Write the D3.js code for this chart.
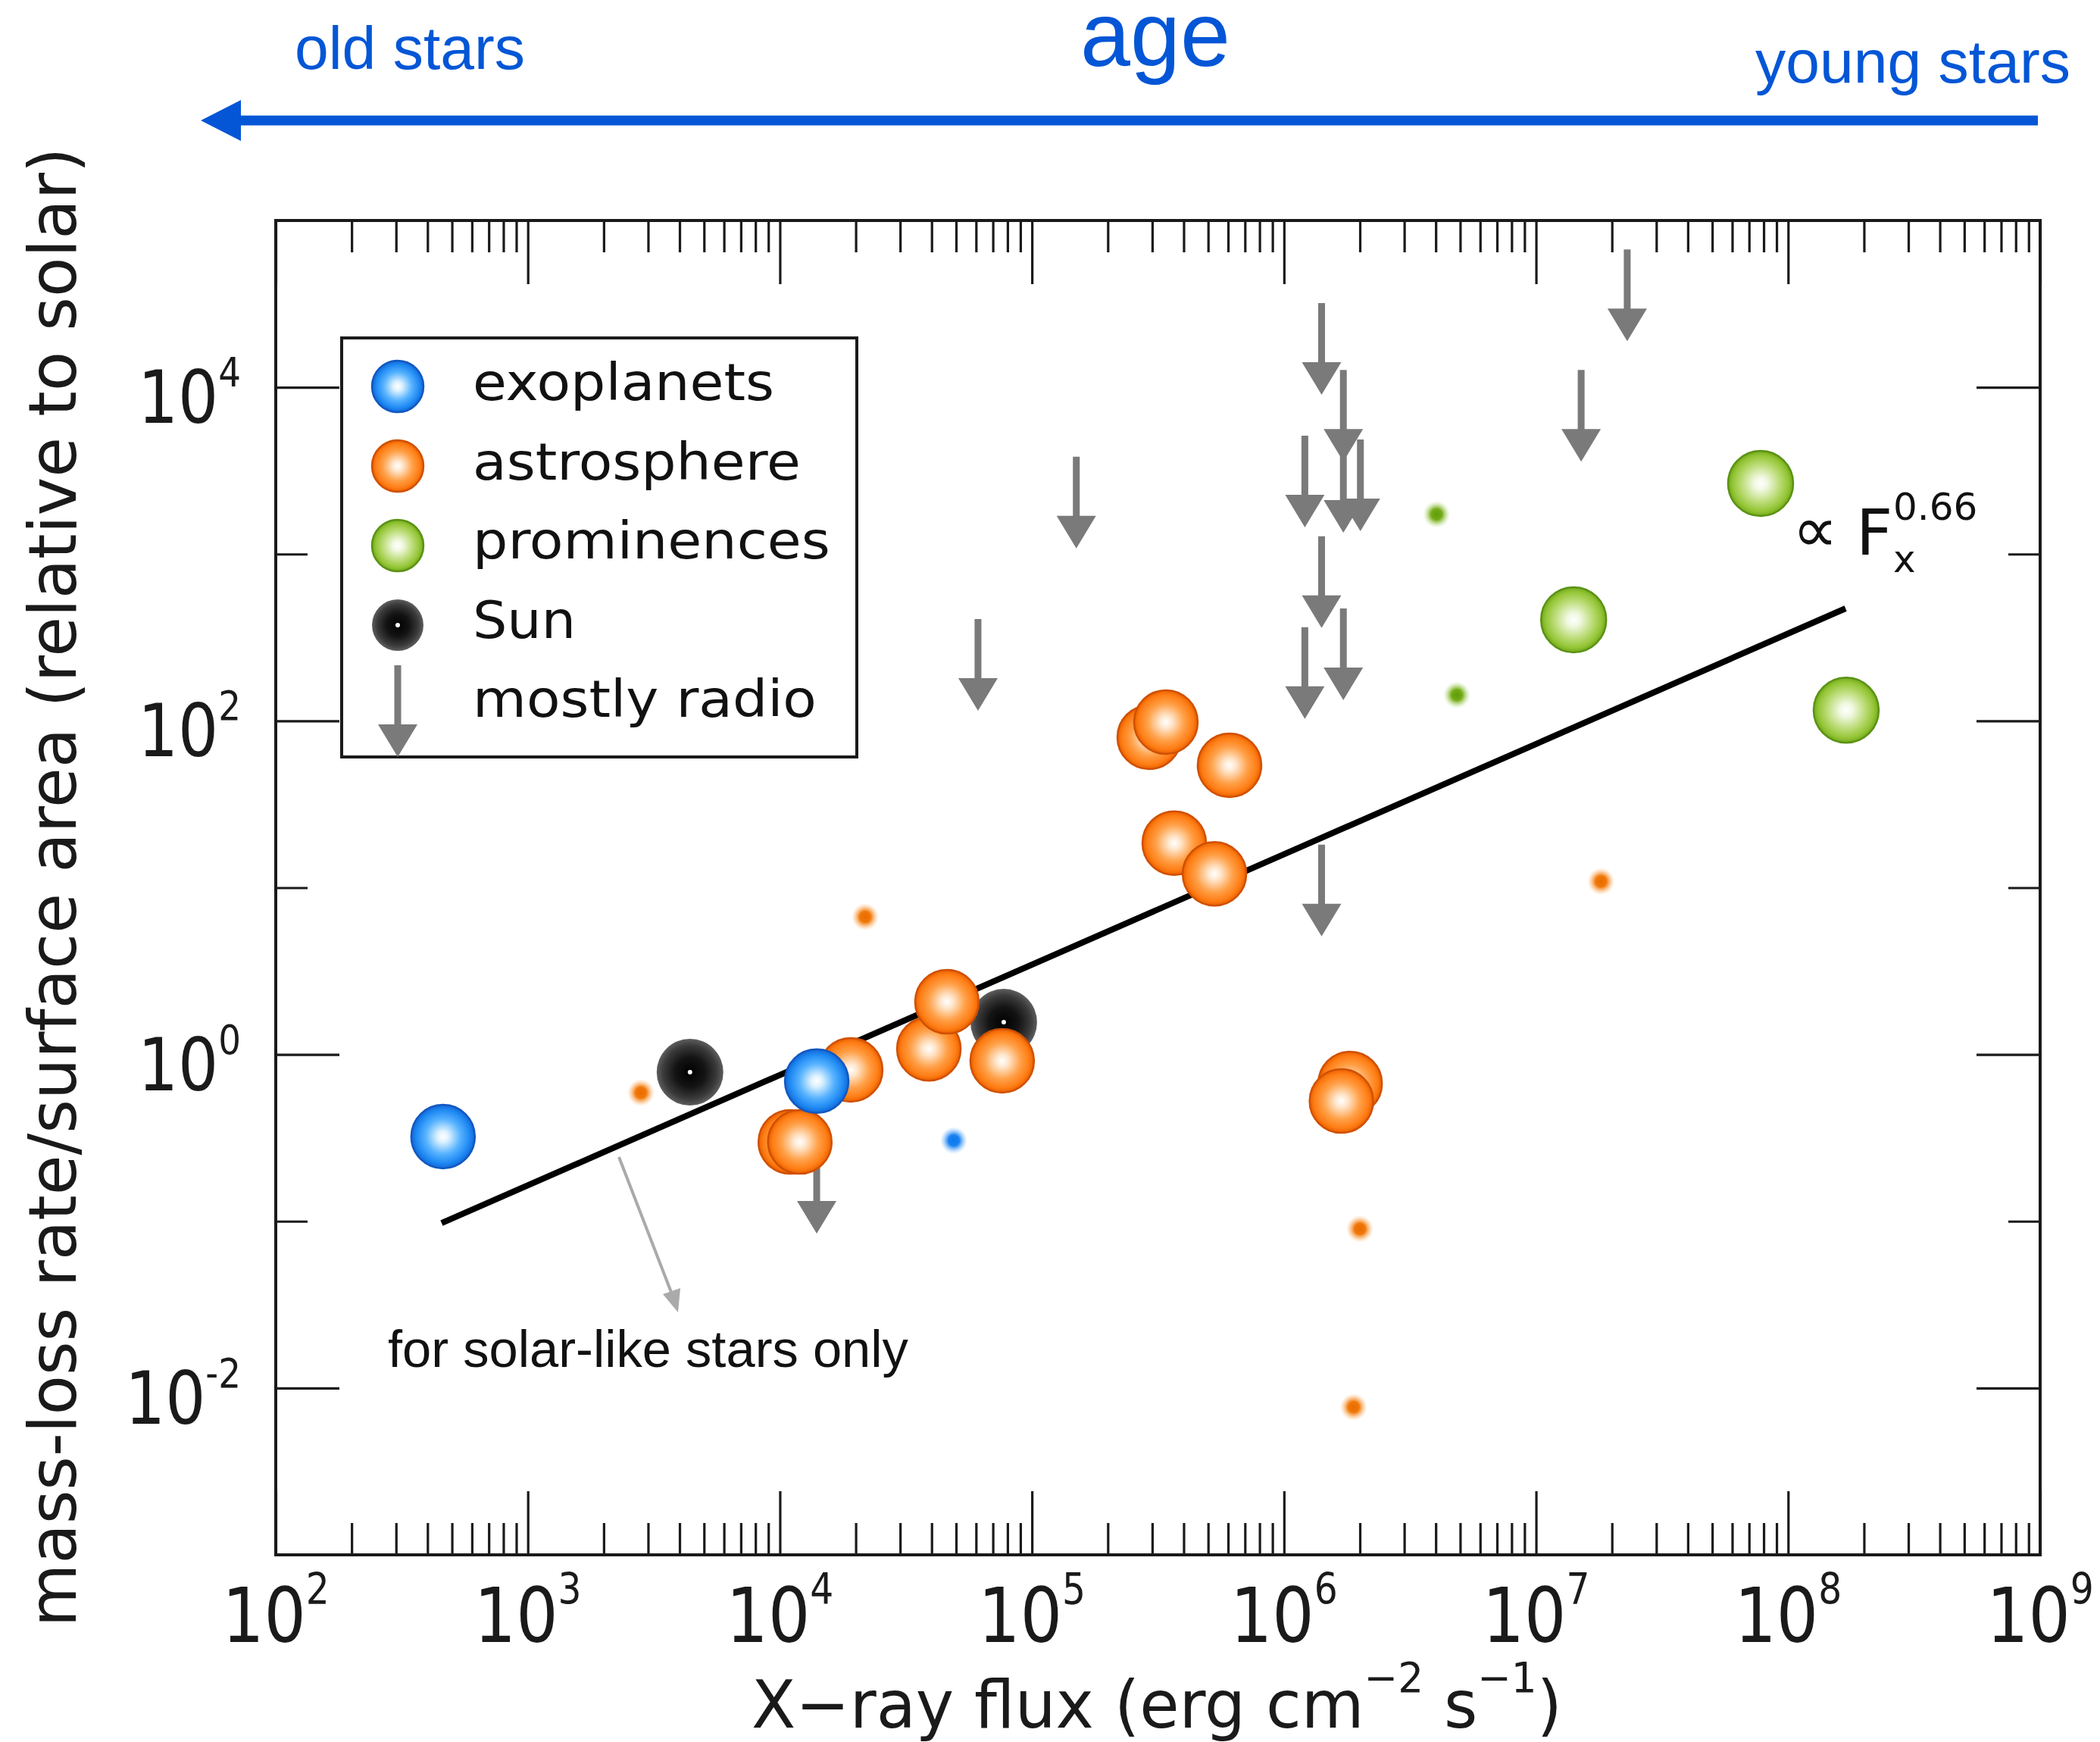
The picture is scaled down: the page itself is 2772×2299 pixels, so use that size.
<!DOCTYPE html>
<html>
<head>
<meta charset="utf-8">
<script src="https://cdn.jsdelivr.net/npm/d3@7"></script>
<style>
  html, body { margin: 0; padding: 0; background: #fff; }
  svg { display: block; }
</style>
</head>
<body>
<div id="chart"></div>
<script>
// mass-loss rate per surface area vs X-ray flux
const exoplanets = [[461, 0.322], [14000, 0.692]];
const exoplanetsSmall = [[49000, 0.305]];
const sun = [[4400, 0.783], [77300, 1.56]];
const astrosphere = [
  [11000, 0.299], [12000, 0.299], [19100, 0.809], [39000, 1.08], [46000, 2.07],
  [76200, 0.916], [292000, 79.8], [340000, 98.4], [608000, 54.2], [367000, 18.5],
  [530000, 12.1], [1.83e6, 0.670], [1.69e6, 0.526]
];
const astrosphereSmall = [[2810, 0.590], [21800, 6.68], [1.81e7, 10.9], [2.0e6, 0.0900], [1.89e6, 0.00769]];
const prominences = [[7.78e7, 2650], [1.41e7, 404], [1.70e8, 116]];
const prominencesSmall = [[4.03e6, 1730], [4.85e6, 143]];
// upper limits, value = top of the arrow
const radioLimits = [
  [1.41e6, 32000], [1.72e6, 12700], [1.21e6, 5130], [1.72e6, 4760], [2.01e6, 4860],
  [1.41e6, 1280], [1.21e6, 364], [1.72e6, 472], [1.51e7, 12700], [2.30e7, 67100],
  [1.41e6, 18.1], [14000, 0.299], [61100, 408], [150000, 3830]
];
const fitLine = [[455, 0.0975], [1.69e8, 472]];
const xTickExps = [2, 3, 4, 5, 6, 7, 8, 9];
const yTickExps = [-2, 0, 2, 4];
const legendLabels = ["exoplanets", "astrosphere", "prominences", "Sun", "mostly radio"];

const width = 2772, height = 2299;
const frame = { left: 364, right: 2693, top: 291, bottom: 2052 };
const blue = "#0456d6";
const ink = "#1a1a1a";
const dejavu = "'DejaVu Sans', Verdana, sans-serif";
const helv = "'Liberation Sans', Arial, Helvetica, sans-serif";

const svg = d3.select("#chart").append("svg")
  .attr("width", width)
  .attr("height", height)
  .attr("viewBox", `0 0 ${width} ${height}`);
svg.append("rect").attr("width", width).attr("height", height).attr("fill", "#fff");
const defs = svg.append("defs");

function radial(id, stops) {
  const g = defs.append("radialGradient").attr("id", id)
    .attr("cx", "50%").attr("cy", "50%").attr("r", "50%");
  stops.forEach(s => g.append("stop")
    .attr("offset", s[0]).attr("stop-color", s[1])
    .attr("stop-opacity", s[2] == null ? 1 : s[2]));
}
radial("g-exo", [[0, "#ffffff"], [0.18, "#dcf1ff"], [0.55, "#56b2ff"], [0.85, "#1d88f2"], [1, "#1466d6"]]);
radial("g-astro", [[0, "#ffffff"], [0.2, "#ffe6cc"], [0.58, "#ffa048"], [0.86, "#ff7d14"], [1, "#e86000"]]);
radial("g-prom", [[0, "#ffffff"], [0.2, "#f1f8e2"], [0.58, "#bcdc78"], [0.86, "#93c535"], [1, "#74a81c"]]);
radial("g-sun", [[0, "#000000"], [0.45, "#141414"], [0.8, "#3a3a3a"], [1, "#5e5e5e"]]);
radial("g-exo-s", [[0, "#0a78ee"], [0.4, "#1a82f0"], [1, "#8cc6ff", 0]]);
radial("g-astro-s", [[0, "#ea6a00"], [0.4, "#f07808"], [1, "#ffc080", 0]]);
radial("g-prom-s", [[0, "#5e9a08"], [0.4, "#74ac18"], [1, "#c8e49a", 0]]);

const x = d3.scaleLog().domain([1e2, 1e9]).range([frame.left, frame.right]);
const y = d3.scaleLog().domain([1e-3, 1e5]).range([frame.bottom, frame.top]);

// squeeze a text horizontally so it covers w pixels
function fitWidth(text, w) {
  const bw = text.node().getBBox().width;
  text.attr("transform", `scale(${w / bw},1)`);
}

// ---- age arrow on top
const ageG = svg.append("g");
ageG.append("path")
  .attr("d", "M265,159 L318,132 L318,152.5 L2690,152.5 L2690,165.5 L318,165.5 L318,186 Z")
  .attr("fill", blue);
[
  { t: "old stars", x: 389, y: 91, size: 80, w: 304, anchor: "start" },
  { t: "age", x: 1525, y: 87, size: 120, w: 198, anchor: "middle" },
  { t: "young stars", x: 2317, y: 109, size: 80, w: 416, anchor: "start" }
].forEach(d => {
  const t = ageG.append("g").attr("transform", `translate(${d.x},${d.y})`)
    .append("text").attr("text-anchor", d.anchor)
    .attr("font-family", helv).attr("font-size", d.size).attr("fill", blue)
    .text(d.t);
  fitWidth(t, d.w);
});

// ---- axes (ticks inward on all four sides)
const plot = svg.append("g");
const xAll = x.ticks();
const xMajor = xAll.filter(v => Math.abs(Math.log10(v) - Math.round(Math.log10(v))) < 1e-9);
const xMinor = xAll.filter(v => !xMajor.includes(v));
const yAll = d3.range(-3, 6).map(e => Math.pow(10, e));
const yLong = yAll.filter(v => Math.round(Math.log10(v)) % 2 === 0);
const yShort = yAll.filter(v => Math.round(Math.log10(v)) % 2 !== 0);

function ticks(axis, tr) {
  const g = plot.append("g").attr("transform", tr).call(axis.tickFormat(""));
  g.select(".domain").remove();
  g.selectAll(".tick line").attr("stroke", ink).attr("stroke-width", 3.2);
}
ticks(d3.axisBottom(x).tickValues(xMinor).tickSize(-42), `translate(0,${frame.bottom})`);
ticks(d3.axisBottom(x).tickValues(xMajor).tickSize(-84), `translate(0,${frame.bottom})`);
ticks(d3.axisTop(x).tickValues(xMinor).tickSize(-42), `translate(0,${frame.top})`);
ticks(d3.axisTop(x).tickValues(xMajor).tickSize(-84), `translate(0,${frame.top})`);
ticks(d3.axisLeft(y).tickValues(yLong).tickSize(-84), `translate(${frame.left},0)`);
ticks(d3.axisLeft(y).tickValues(yShort).tickSize(-42), `translate(${frame.left},0)`);
ticks(d3.axisRight(y).tickValues(yLong).tickSize(-84), `translate(${frame.right},0)`);
ticks(d3.axisRight(y).tickValues(yShort).tickSize(-42), `translate(${frame.right},0)`);

plot.append("rect")
  .attr("x", frame.left).attr("y", frame.top)
  .attr("width", frame.right - frame.left).attr("height", frame.bottom - frame.top)
  .attr("fill", "none").attr("stroke", ink).attr("stroke-width", 4);

// tick labels 10^n, slightly condensed like the original
function power(px, py, e, anchor, size, minus) {
  const t = plot.append("g").attr("transform", `translate(${px},${py})`)
    .append("text").attr("text-anchor", anchor).attr("transform", "scale(0.87,1)")
    .attr("font-family", dejavu).attr("font-size", size).attr("fill", ink);
  t.append("tspan").text("10");
  t.append("tspan").attr("dy", -size * 0.5).attr("font-size", size * 0.56)
    .text(e < 0 ? minus + (-e) : e);
}
xTickExps.forEach(e => power(x(Math.pow(10, e)), 2167, e, "middle", 100, "-"));
yTickExps.forEach(e => power(318, y(Math.pow(10, e)) + 47, e, "end", 96, "-"));

// axis titles
const xt = svg.append("g").attr("transform", "translate(1527,2280)")
  .append("text").attr("text-anchor", "middle")
  .attr("font-family", dejavu).attr("font-size", 88).attr("fill", ink);
xt.append("tspan").text("X\u2212ray flux (erg cm");
xt.append("tspan").attr("dy", -47).attr("font-size", 55).text("\u22122");
xt.append("tspan").attr("dy", 47).text(" s");
xt.append("tspan").attr("dy", -47).attr("font-size", 55).text("\u22121");
xt.append("tspan").attr("dy", 47).text(")");
fitWidth(xt, 1070);

const yt = svg.append("g").attr("transform", "translate(100,1171) rotate(-90)")
  .append("text").attr("text-anchor", "middle")
  .attr("font-family", dejavu).attr("font-size", 88).attr("fill", ink)
  .text("mass-loss rate/surface area (relative to solar)");
fitWidth(yt, 1953);

// ---- data
const marks = svg.append("g");

marks.append("path")
  .datum(fitLine)
  .attr("d", d3.line().x(d => x(d[0])).y(d => y(d[1])))
  .attr("stroke", "#000").attr("stroke-width", 8).attr("fill", "none");

function arrowPath(cx, t) {
  return `M${cx - 4.5},${t} L${cx + 4.5},${t} L${cx + 4.5},${t + 78} L${cx + 26},${t + 78} ` +
    `L${cx},${t + 121} L${cx - 26},${t + 78} L${cx - 4.5},${t + 78} Z`;
}
marks.selectAll(".radio").data(radioLimits).join("path")
  .attr("class", "radio")
  .attr("d", d => arrowPath(x(d[0]), y(d[1])))
  .attr("fill", "#7a7a7a");

function balls(data, grad, r, stroke) {
  marks.append("g").selectAll("circle").data(data).join("circle")
    .attr("cx", d => x(d[0])).attr("cy", d => y(d[1])).attr("r", r)
    .attr("fill", `url(#${grad})`)
    .attr("stroke", stroke || "none").attr("stroke-width", 2.5);
}
balls(sun, "g-sun", 44);
marks.append("g").selectAll("circle").data(sun).join("circle")
  .attr("cx", d => x(d[0])).attr("cy", d => y(d[1])).attr("r", 3).attr("fill", "#fff");
balls(astrosphere, "g-astro", 42, "#d05000");
balls(exoplanets, "g-exo", 42, "#1258c0");
balls(prominences, "g-prom", 43, "#5a9214");
balls(astrosphereSmall, "g-astro-s", 18);
balls(exoplanetsSmall, "g-exo-s", 18);
balls(prominencesSmall, "g-prom-s", 18);

// ---- annotations
const note = svg.append("g");
note.append("line").attr("x1", 817).attr("y1", 1527).attr("x2", 887).attr("y2", 1708)
  .attr("stroke", "#aaa").attr("stroke-width", 4);
note.append("path").attr("d", "M895,1732 L875,1708 L898,1700 Z").attr("fill", "#aaa");
const solar = note.append("g").attr("transform", "translate(512,1804)")
  .append("text").attr("font-family", helv).attr("font-size", 68).attr("fill", "#111")
  .text("for solar-like stars only");
fitWidth(solar, 687);

const fx = note.append("g").attr("font-family", dejavu).attr("fill", "#111");
fx.append("text").attr("x", 2366).attr("y", 728).attr("font-size", 84).text("\u221d");
fx.append("text").attr("x", 2450).attr("y", 732).attr("font-size", 84).text("F");
fx.append("text").attr("x", 2499).attr("y", 686).attr("font-size", 50).text("0.66");
fx.append("text").attr("x", 2499).attr("y", 755).attr("font-size", 50).text("x");

// ---- legend
const legend = svg.append("g");
legend.append("rect").attr("x", 451).attr("y", 446).attr("width", 680).attr("height", 553)
  .attr("fill", "#fff").attr("stroke", ink).attr("stroke-width", 4);
const legendGrads = ["g-exo", "g-astro", "g-prom", "g-sun"];
const legendStroke = ["#1258c0", "#d05000", "#5a9214", "none"];
legendLabels.forEach((lab, i) => {
  const cy = 510 + i * 105;
  if (i < 4) {
    legend.append("circle").attr("cx", 525).attr("cy", cy).attr("r", 34)
      .attr("fill", `url(#${legendGrads[i]})`)
      .attr("stroke", legendStroke[i]).attr("stroke-width", 2.5);
    if (i === 3) legend.append("circle").attr("cx", 525).attr("cy", cy).attr("r", 3).attr("fill", "#fff");
  } else {
    legend.append("path").attr("d", arrowPath(525, 878)).attr("fill", "#7a7a7a");
  }
  const t = legend.append("g").attr("transform", `translate(624,${528 + i * 104.5})`)
    .append("text").attr("font-family", dejavu).attr("font-size", 68).attr("fill", "#111")
    .text(lab);
  fitWidth(t, [398, 433, 472, 136, 454][i]);
});
</script>
</body>
</html>
